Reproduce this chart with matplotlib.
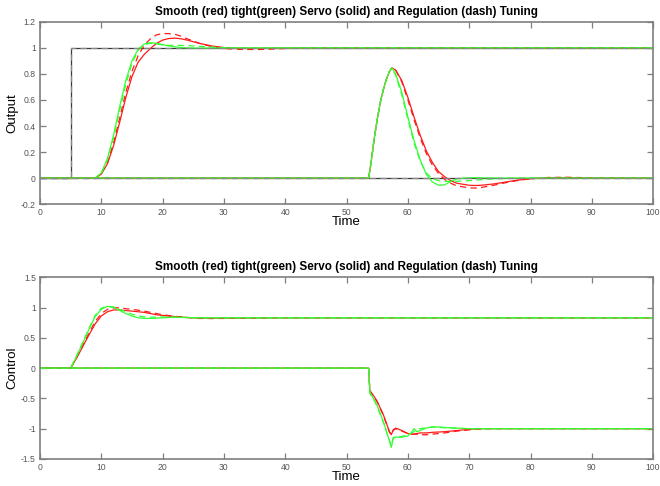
import matplotlib
matplotlib.use('Agg')
import matplotlib.pyplot as plt

RED = '#ff1a1a'
GREEN = '#33ff33'
BLACK = '#3a3a3a'
AXIS_COLOR = '#7f7f7f'
TICK_LABEL_COLOR = '#555555'

TITLE = 'Smooth (red) tight(green) Servo (solid) and Regulation (dash) Tuning'

# setpoints (top plot)
T_STEP = [0, 5, 5, 100]
Y_STEP = [0, 0, 1, 1]
T_ZERO = [0, 100]
Y_ZERO = [0, 0]

# output, setpoint step test
T_OUT_SERVO = [0, 9, 10, 11, 12, 13, 14, 15, 16, 17, 18, 19, 20, 21, 22, 23, 24, 26, 28, 30, 33, 36, 40, 45, 50, 100]
OUT_SERVO_RED = [0, 0, 0.03, 0.11, 0.25, 0.43, 0.62, 0.78, 0.89, 0.95, 0.995, 1.035, 1.06, 1.072, 1.075, 1.07, 1.06,
                 1.035, 1.015, 1.003, 0.996, 0.996, 0.999, 1.0, 1.0, 1.0]
OUT_SERVO_RED_D = [0, 0, 0.035, 0.12, 0.27, 0.46, 0.66, 0.82, 0.94, 1.02, 1.07, 1.1, 1.11, 1.11, 1.105, 1.09, 1.07,
                   1.035, 1.01, 0.995, 0.988, 0.988, 0.995, 1.0, 1.0, 1.0]
OUT_SERVO_GREEN = [0, 0, 0.04, 0.15, 0.33, 0.55, 0.75, 0.9, 0.99, 1.03, 1.04, 1.035, 1.025, 1.015, 1.008, 1.003, 1.0,
                   0.998, 0.999, 1.0, 1.0, 1.0, 1.0, 1.0, 1.0, 1.0]
OUT_SERVO_GREEN_D = [0, 0, 0.035, 0.14, 0.31, 0.52, 0.72, 0.88, 0.98, 1.025, 1.035, 1.03, 1.022, 1.02, 1.02, 1.019,
                     1.018, 1.012, 1.006, 1.002, 1.0, 1.0, 1.0, 1.0, 1.0, 1.0]

# output, disturbance test
T_OUT_REG = [0, 53.6, 54, 54.5, 55, 55.5, 56, 56.5, 57, 57.4, 58, 59, 60, 61, 62, 63, 64, 65, 66, 67, 68, 70, 71,
             72, 74, 76, 78, 80, 83, 86, 90, 100]
OUT_REG_RED = [0, 0, 0.12, 0.3, 0.45, 0.58, 0.68, 0.76, 0.82, 0.847, 0.83, 0.75, 0.62, 0.47, 0.33, 0.21, 0.12, 0.05,
               0.01, -0.02, -0.04, -0.055, -0.057, -0.055, -0.045, -0.03, -0.015, -0.005, 0.003, 0.004, 0.001, 0]
OUT_REG_RED_D = [0, 0, 0.12, 0.3, 0.45, 0.58, 0.68, 0.76, 0.82, 0.847, 0.83, 0.74, 0.6, 0.45, 0.31, 0.19, 0.1, 0.035,
                 -0.01, -0.04, -0.06, -0.075, -0.077, -0.072, -0.055, -0.035, -0.018, -0.005, 0.005, 0.006, 0.002, 0]
OUT_REG_GREEN = [0, 0, 0.12, 0.3, 0.45, 0.58, 0.68, 0.76, 0.82, 0.847, 0.8, 0.66, 0.47, 0.29, 0.14, 0.03, -0.03,
                 -0.055, -0.052, -0.025, -0.005, 0.003, 0.003, 0.002, 0.001, 0, 0, 0, 0, 0, 0, 0]
OUT_REG_GREEN_D = [0, 0, 0.12, 0.3, 0.45, 0.58, 0.68, 0.76, 0.82, 0.847, 0.79, 0.64, 0.45, 0.27, 0.13, 0.04, -0.005,
                   -0.02, -0.025, -0.025, -0.025, -0.02, -0.016, -0.012, -0.006, -0.002, -0.001, 0, 0, 0, 0, 0]

# control, setpoint step test
T_CTL_SERVO = [0, 5, 6, 7, 8, 9, 10, 11, 12, 13, 14, 15, 16, 17, 18, 19, 20, 22, 24, 26, 28, 32, 40, 100]
CTL_SERVO_RED = [0, 0, 0.17, 0.36, 0.55, 0.73, 0.86, 0.93, 0.96, 0.96, 0.95, 0.94, 0.93, 0.92, 0.9, 0.88, 0.87,
                 0.85, 0.835, 0.825, 0.823, 0.825, 0.83, 0.83]
CTL_SERVO_RED_D = [0, 0, 0.18, 0.38, 0.58, 0.77, 0.9, 0.97, 0.995, 0.995, 0.98, 0.97, 0.955, 0.94, 0.92, 0.9, 0.88,
                   0.855, 0.835, 0.82, 0.818, 0.822, 0.83, 0.83]
CTL_SERVO_GREEN = [0, 0, 0.2, 0.42, 0.64, 0.85, 0.97, 1.02, 1.0, 0.95, 0.9, 0.86, 0.83, 0.82, 0.82, 0.825, 0.83,
                   0.84, 0.835, 0.83, 0.83, 0.83, 0.83, 0.83]
CTL_SERVO_GREEN_D = [0, 0, 0.21, 0.43, 0.66, 0.87, 0.99, 1.02, 1.01, 0.97, 0.93, 0.89, 0.86, 0.845, 0.84, 0.842,
                     0.845, 0.84, 0.833, 0.83, 0.83, 0.83, 0.83, 0.83]

# control, disturbance test
T_CTL_REG = [0, 53.6, 53.8, 54.5, 55, 56, 57, 57.3, 57.6, 58, 59, 60, 60.6, 61, 61.5, 62, 63, 64, 65, 66, 68, 70,
             72, 74, 100]
CTL_REG_RED = [0, 0, -0.37, -0.47, -0.55, -0.77, -1.05, -1.1, -1.02, -0.99, -1.03, -1.08, -1.09, -1.09, -1.08,
               -1.07, -1.07, -1.06, -1.055, -1.05, -1.03, -1.01, -1.0, -1.0, -1.0]
CTL_REG_RED_D = [0, 0, -0.38, -0.48, -0.56, -0.78, -1.06, -1.1, -1.03, -1.0, -1.04, -1.08, -1.09, -1.09, -1.095,
                 -1.1, -1.1, -1.09, -1.08, -1.07, -1.04, -1.02, -1.005, -1.0, -1.0]
CTL_REG_GREEN = [0, 0, -0.4, -0.52, -0.62, -0.88, -1.2, -1.31, -1.16, -1.14, -1.14, -1.12, -1.06, -1.0, -1.05,
                 -1.03, -0.99, -0.97, -0.97, -0.98, -0.99, -1.0, -1.0, -1.0, -1.0]
CTL_REG_GREEN_D = [0, 0, -0.42, -0.53, -0.64, -0.9, -1.2, -1.28, -1.15, -1.13, -1.13, -1.1, -1.07, -1.05, -1.02,
                   -1.0, -0.98, -0.975, -0.98, -0.985, -0.995, -1.0, -1.0, -1.0, -1.0]

X_TICKS = list(range(0, 101, 10))
OUT_TICKS = [-0.2, 0, 0.2, 0.4, 0.6, 0.8, 1, 1.2]
CTL_TICKS = [-1.5, -1, -0.5, 0, 0.5, 1, 1.5]

DASHES = (5, 3.5)
LW = 0.9


def fmt_tick(v):
    return f"{v:g}"


def style_axes(ax, yticks, ylabel):
    ax.set_xlim(0, 100)
    ax.set_ylim(yticks[0], yticks[-1])
    ax.set_xticks(X_TICKS)
    ax.set_xticklabels([fmt_tick(v) for v in X_TICKS])
    ax.set_yticks(yticks)
    ax.set_yticklabels([fmt_tick(v) for v in yticks])
    ax.tick_params(direction='in', length=4, width=0.9, top=True, right=True, colors=AXIS_COLOR,
                   labelcolor=TICK_LABEL_COLOR, labelsize=6.2, pad=3)
    for spine in ax.spines.values():
        spine.set_color(AXIS_COLOR)
        spine.set_linewidth(1.2)
    ax.set_title(TITLE, fontsize=8.4, fontweight='bold', pad=5)
    ax.set_xlabel('Time', fontsize=9.5, labelpad=-1)
    ax.set_ylabel(ylabel, fontsize=9.5, labelpad=2)


def draw_four(ax, t, red, red_d, green, green_d):
    ax.plot(t, red, color=RED, lw=LW)
    ax.plot(t, red_d, color=RED, lw=LW, dashes=DASHES)
    ax.plot(t, green, color=GREEN, lw=LW)
    ax.plot(t, green_d, color=GREEN, lw=LW, dashes=DASHES)


plt.rcParams['font.family'] = ['Liberation Sans', 'DejaVu Sans']

fig = plt.figure(figsize=(6.6, 4.86), dpi=100)
ax1 = fig.add_axes([0.0606, 0.580, 0.929, 0.375])
ax2 = fig.add_axes([0.0606, 0.0556, 0.929, 0.374])

ax1.plot(T_STEP, Y_STEP, color=BLACK, lw=LW)
ax1.plot(T_ZERO, Y_ZERO, color=BLACK, lw=LW)
draw_four(ax1, T_OUT_REG, OUT_REG_RED, OUT_REG_RED_D, OUT_REG_GREEN, OUT_REG_GREEN_D)
draw_four(ax1, T_OUT_SERVO, OUT_SERVO_RED, OUT_SERVO_RED_D, OUT_SERVO_GREEN, OUT_SERVO_GREEN_D)
ax1.plot(T_STEP, Y_STEP, color='#888888', lw=LW, dashes=DASHES)
ax1.plot(T_ZERO, Y_ZERO, color='#888888', lw=LW, dashes=DASHES)
style_axes(ax1, OUT_TICKS, 'Output')

draw_four(ax2, T_CTL_REG, CTL_REG_RED, CTL_REG_RED_D, CTL_REG_GREEN, CTL_REG_GREEN_D)
draw_four(ax2, T_CTL_SERVO, CTL_SERVO_RED, CTL_SERVO_RED_D, CTL_SERVO_GREEN, CTL_SERVO_GREEN_D)
style_axes(ax2, CTL_TICKS, 'Control')

fig.savefig('out.png', dpi=100)
